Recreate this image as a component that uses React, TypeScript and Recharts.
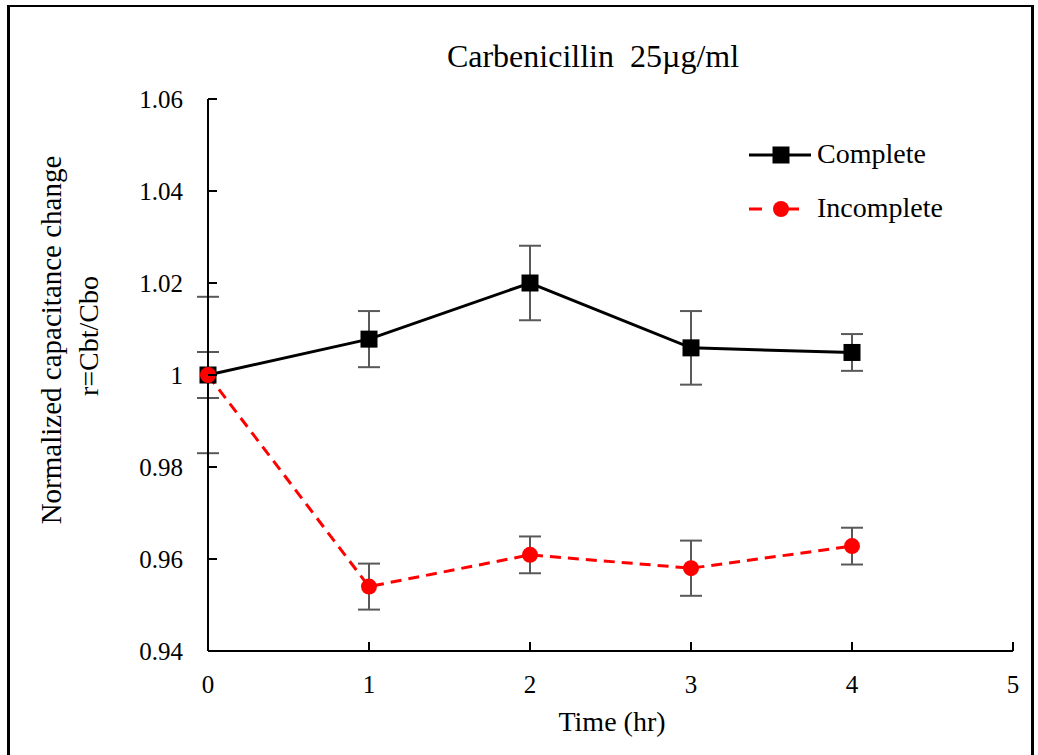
import { LineChart, Line, XAxis, YAxis, ErrorBar } from 'recharts'

const times = [0, 1, 2, 3, 4]
const completeValues = [1.0, 1.0078, 1.02, 1.0059, 1.0049]
const completeErrors = [0.017, 0.0061, 0.0081, 0.008, 0.004]
const incompleteValues = [1.0, 0.954, 0.9609, 0.958, 0.9628]
const incompleteErrors = [0.005, 0.005, 0.004, 0.006, 0.004]
const xTicks = [0, 1, 2, 3, 4, 5]
const yTicks = [0.94, 0.96, 0.98, 1, 1.02, 1.04, 1.06]

const SERIES_COMPLETE = 'Complete'
const SERIES_INCOMPLETE = 'Incomplete'

const data = times.map((t, i) => ({
  t,
  complete: completeValues[i],
  completeErr: completeErrors[i],
  incomplete: incompleteValues[i],
  incompleteErr: incompleteErrors[i],
}))

const FONT = "'Liberation Serif', 'Times New Roman', serif"
const RED = '#ff0000'

function XTick(props: any) {
  const { x, y, payload } = props
  return (
    <g>
      <line x1={x} y1={y} x2={x} y2={y - 9} stroke="#000" strokeWidth={2} />
      <text x={x} y={y + 42} textAnchor="middle" fontFamily={FONT} fontSize={25} fill="#000">
        {payload.value}
      </text>
    </g>
  )
}

function YTick(props: any) {
  const { x, y, payload } = props
  return (
    <g>
      <line x1={x} y1={y} x2={x + 9} y2={y} stroke="#000" strokeWidth={2} />
      <text x={x - 25} y={y + 9} textAnchor="end" fontFamily={FONT} fontSize={25} fill="#000">
        {String(Number(Number(payload.value).toFixed(2)))}
      </text>
    </g>
  )
}

function SquareDot(props: any) {
  const { cx, cy, index } = props
  if (cx == null || cy == null) return <g key={index} />
  return <rect key={index} x={cx - 8.5} y={cy - 8.5} width={17} height={17} fill="#000" />
}

export default function App() {
  return (
    <div style={{ position: 'absolute', left: 0, top: 0, width: 1038, height: 755, overflow: 'hidden', background: '#fff' }}>
      <div
        style={{
          position: 'absolute',
          left: 7,
          top: 5,
          width: 1021,
          height: 750,
          borderTop: '2px solid #000',
          borderLeft: '3px solid #000',
          borderRight: '3px solid #000',
        }}
      />
      <LineChart width={1038} height={755} data={data} margin={{ top: 99, right: 25, left: 0, bottom: 0 }}>
        <XAxis
          dataKey="t"
          type="number"
          domain={[0, 5]}
          ticks={xTicks}
          height={104}
          tickSize={0}
          tickMargin={0}
          tickLine={false}
          axisLine={{ stroke: '#000', strokeWidth: 2 }}
          tick={<XTick />}
          interval={0}
        />
        <YAxis
          type="number"
          domain={[0.94, 1.06]}
          ticks={yTicks}
          width={208}
          tickSize={0}
          tickMargin={0}
          tickLine={false}
          axisLine={{ stroke: '#000', strokeWidth: 2 }}
          tick={<YTick />}
          interval={0}
        />
        <Line
          dataKey="complete"
          name={SERIES_COMPLETE}
          type="linear"
          stroke="#000"
          strokeWidth={3}
          dot={<SquareDot />}
          activeDot={false}
          isAnimationActive={false}
        >
          <ErrorBar dataKey="completeErr" direction="y" width={11} stroke="#595959" strokeWidth={2} />
        </Line>
        <Line
          dataKey="incomplete"
          name={SERIES_INCOMPLETE}
          type="linear"
          stroke={RED}
          strokeWidth={3}
          strokeDasharray="11 7"
          dot={{ r: 8, fill: RED, stroke: 'none' }}
          activeDot={false}
          isAnimationActive={false}
        >
          <ErrorBar dataKey="incompleteErr" direction="y" width={11} stroke="#595959" strokeWidth={2} />
        </Line>
      </LineChart>
      <svg
        width={1038}
        height={755}
        style={{ position: 'absolute', left: 0, top: 0, pointerEvents: 'none' }}
        fontFamily={FONT}
      >
        <text x={593} y={67} textAnchor="middle" fontSize={32} fill="#000">
          {'Carbenicillin\u00a0\u00a025µg/ml'}
        </text>
        <text x={612} y={731} textAnchor="middle" fontSize={28} fill="#000">
          Time (hr)
        </text>
        <text transform="translate(61,340) rotate(-90)" textAnchor="middle" fontSize={29} fill="#000">
          Normalized capacitance change
        </text>
        <text transform="translate(98,336) rotate(-90)" textAnchor="middle" fontSize={28} fill="#000">
          r=Cbt/Cbo
        </text>
        {/* legend */}
        <line x1={749} y1={155} x2={811} y2={155} stroke="#000" strokeWidth={3} />
        <rect x={772.5} y={146.5} width={17} height={17} fill="#000" />
        <text x={817} y={163} fontSize={28} fill="#000">{SERIES_COMPLETE}</text>
        <line x1={749} y1={209} x2={811} y2={209} stroke={RED} strokeWidth={3} strokeDasharray="13 12 0 12 13" />
        <circle cx={781} cy={209} r={8} fill={RED} />
        <text x={817} y={217} fontSize={28} fill="#000">{SERIES_INCOMPLETE}</text>
      </svg>
    </div>
  )
}
